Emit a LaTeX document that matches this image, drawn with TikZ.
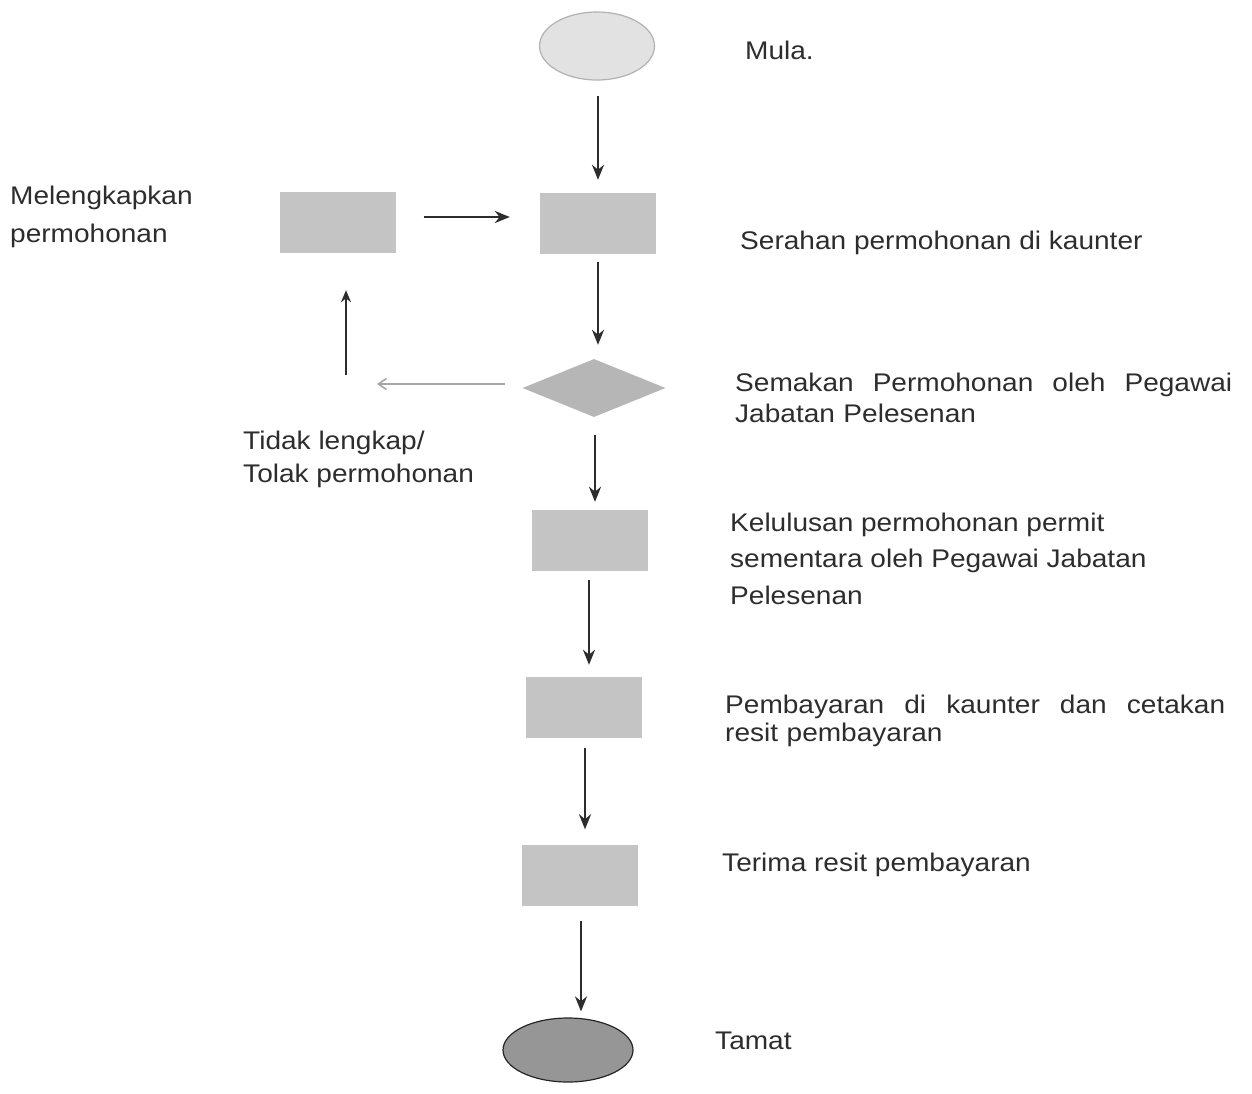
\documentclass[tikz,border=0pt]{standalone}
\usepackage{fontspec}
\setmainfont{Liberation Sans}[FakeStretch=1.1]
\usetikzlibrary{shapes.geometric,arrows.meta,calc}
\definecolor{boxgray}{RGB}{196,196,196}
\definecolor{diagray}{RGB}{182,182,182}
\definecolor{startgray}{RGB}{226,226,226}
\definecolor{endgray}{RGB}{150,150,150}
\definecolor{ink}{RGB}{45,45,45}
\begin{document}
\begin{tikzpicture}[x=1pt,y=-1pt,
  procbox/.style={rectangle, fill=boxgray, minimum width=116pt, minimum height=61pt, inner sep=0pt},
  decide/.style={diamond, fill=diagray, minimum width=143pt, minimum height=58pt, inner sep=0pt},
  terminal/.style={ellipse, inner sep=0pt, line width=1.2pt},
  arr/.style={draw=ink, line width=2.8pt, -{Stealth[length=15pt,width=12pt]}},
  greyarr/.style={draw=gray!70, line width=1.6pt, -{Straight Barb[length=8pt,width=11pt]}},
  lbl/.style={inner sep=0pt, text=ink, font=\fontsize{25.5}{37}\selectfont, align=left, anchor=base west}
]
\useasboundingbox (0,0) rectangle (1252,1093);
\fill[white] (0,0) rectangle (1252,1093);

% nodes
\node[terminal, fill=startgray, draw=gray!60, minimum width=115pt, minimum height=68pt] (start) at (597,46) {};
\node[procbox] (serah) at (598,223.5) {};
\node[procbox] (lengkap) at (337.5,222.5) {};
\node[decide] (semak) at (594,388) {};
\node[procbox] (lulus) at (589.5,540.5) {};
\node[procbox] (bayar) at (584,707.5) {};
\node[procbox] (terima) at (579.5,875) {};
\node[terminal, fill=endgray, draw=gray!30!black, minimum width=130pt, minimum height=64pt] (tamat) at (568,1050) {};

% free ends of the rejection loop
\coordinate (rej) at (377,384);
\coordinate (up) at (346,375);

% connectors
\draw[arr] ($(start.south)+(1,15)$) -- ($(start.south |- serah.north)+(1,-13)$);
\draw[arr] ($(serah.south)+(0,8)$) -- ($(serah.south |- semak.north)+(0,-14)$);
\draw[arr] ($(semak.south)+(1,18)$) -- ($(semak.south |- lulus.north)+(1,-8)$);
\draw[arr] ($(lulus.south)+(-0.5,9)$) -- ($(lulus.south |- bayar.north)+(-0.5,-12)$);
\draw[arr] ($(bayar.south)+(1,10)$) -- ($(bayar.south |- terima.north)+(1,-15)$);
\draw[arr] ($(terima.south)+(1.5,15)$) -- ($(terima.south |- tamat.north)+(1.5,-6)$);
\draw[arr] ($(lengkap.east)+(28,-5.5)$) -- ($(serah.west)+(-30,-6.5)$);
\draw[greyarr] ($(semak.west)+(-17,-4)$) -- (rej);
\draw[arr, -{Stealth[length=12pt,width=10pt]}] (up) -- ($(up |- lengkap.south)+(0,37)$);

% labels
\node[lbl] (tmula) at (745,59) {Mula.};
\node[lbl] (tserah) at (740,249) {Serahan permohonan di kaunter};
\node[lbl, font=\fontsize{25.5}{38}\selectfont] (tlengkap) at (10,242) {Melengkapkan\\permohonan};
\node[lbl, text width=497pt, font=\fontsize{25.5}{31}\selectfont] (tsemak) at (735,391) {Semakan\hfill Permohonan\hfill oleh\hfill Pegawai\\Jabatan Pelesenan};
\node[lbl, font=\fontsize{25.5}{33}\selectfont] (ttidak) at (243,482) {Tidak lengkap/\\Tolak permohonan};
\node[lbl, font=\fontsize{25.5}{36.5}\selectfont] (tlulus) at (730,604) {Kelulusan permohonan permit\\sementara oleh Pegawai Jabatan\\Pelesenan};
\node[lbl, text width=500pt, font=\fontsize{25.5}{28}\selectfont] (tbayar) at (725,713) {Pembayaran\hfill di\hfill kaunter\hfill dan\hfill cetakan\\resit pembayaran};
\node[lbl] (tterima) at (722,871) {Terima resit pembayaran};
\node[lbl] (ttamat) at (715,1049) {Tamat};
\end{tikzpicture}
\end{document}
